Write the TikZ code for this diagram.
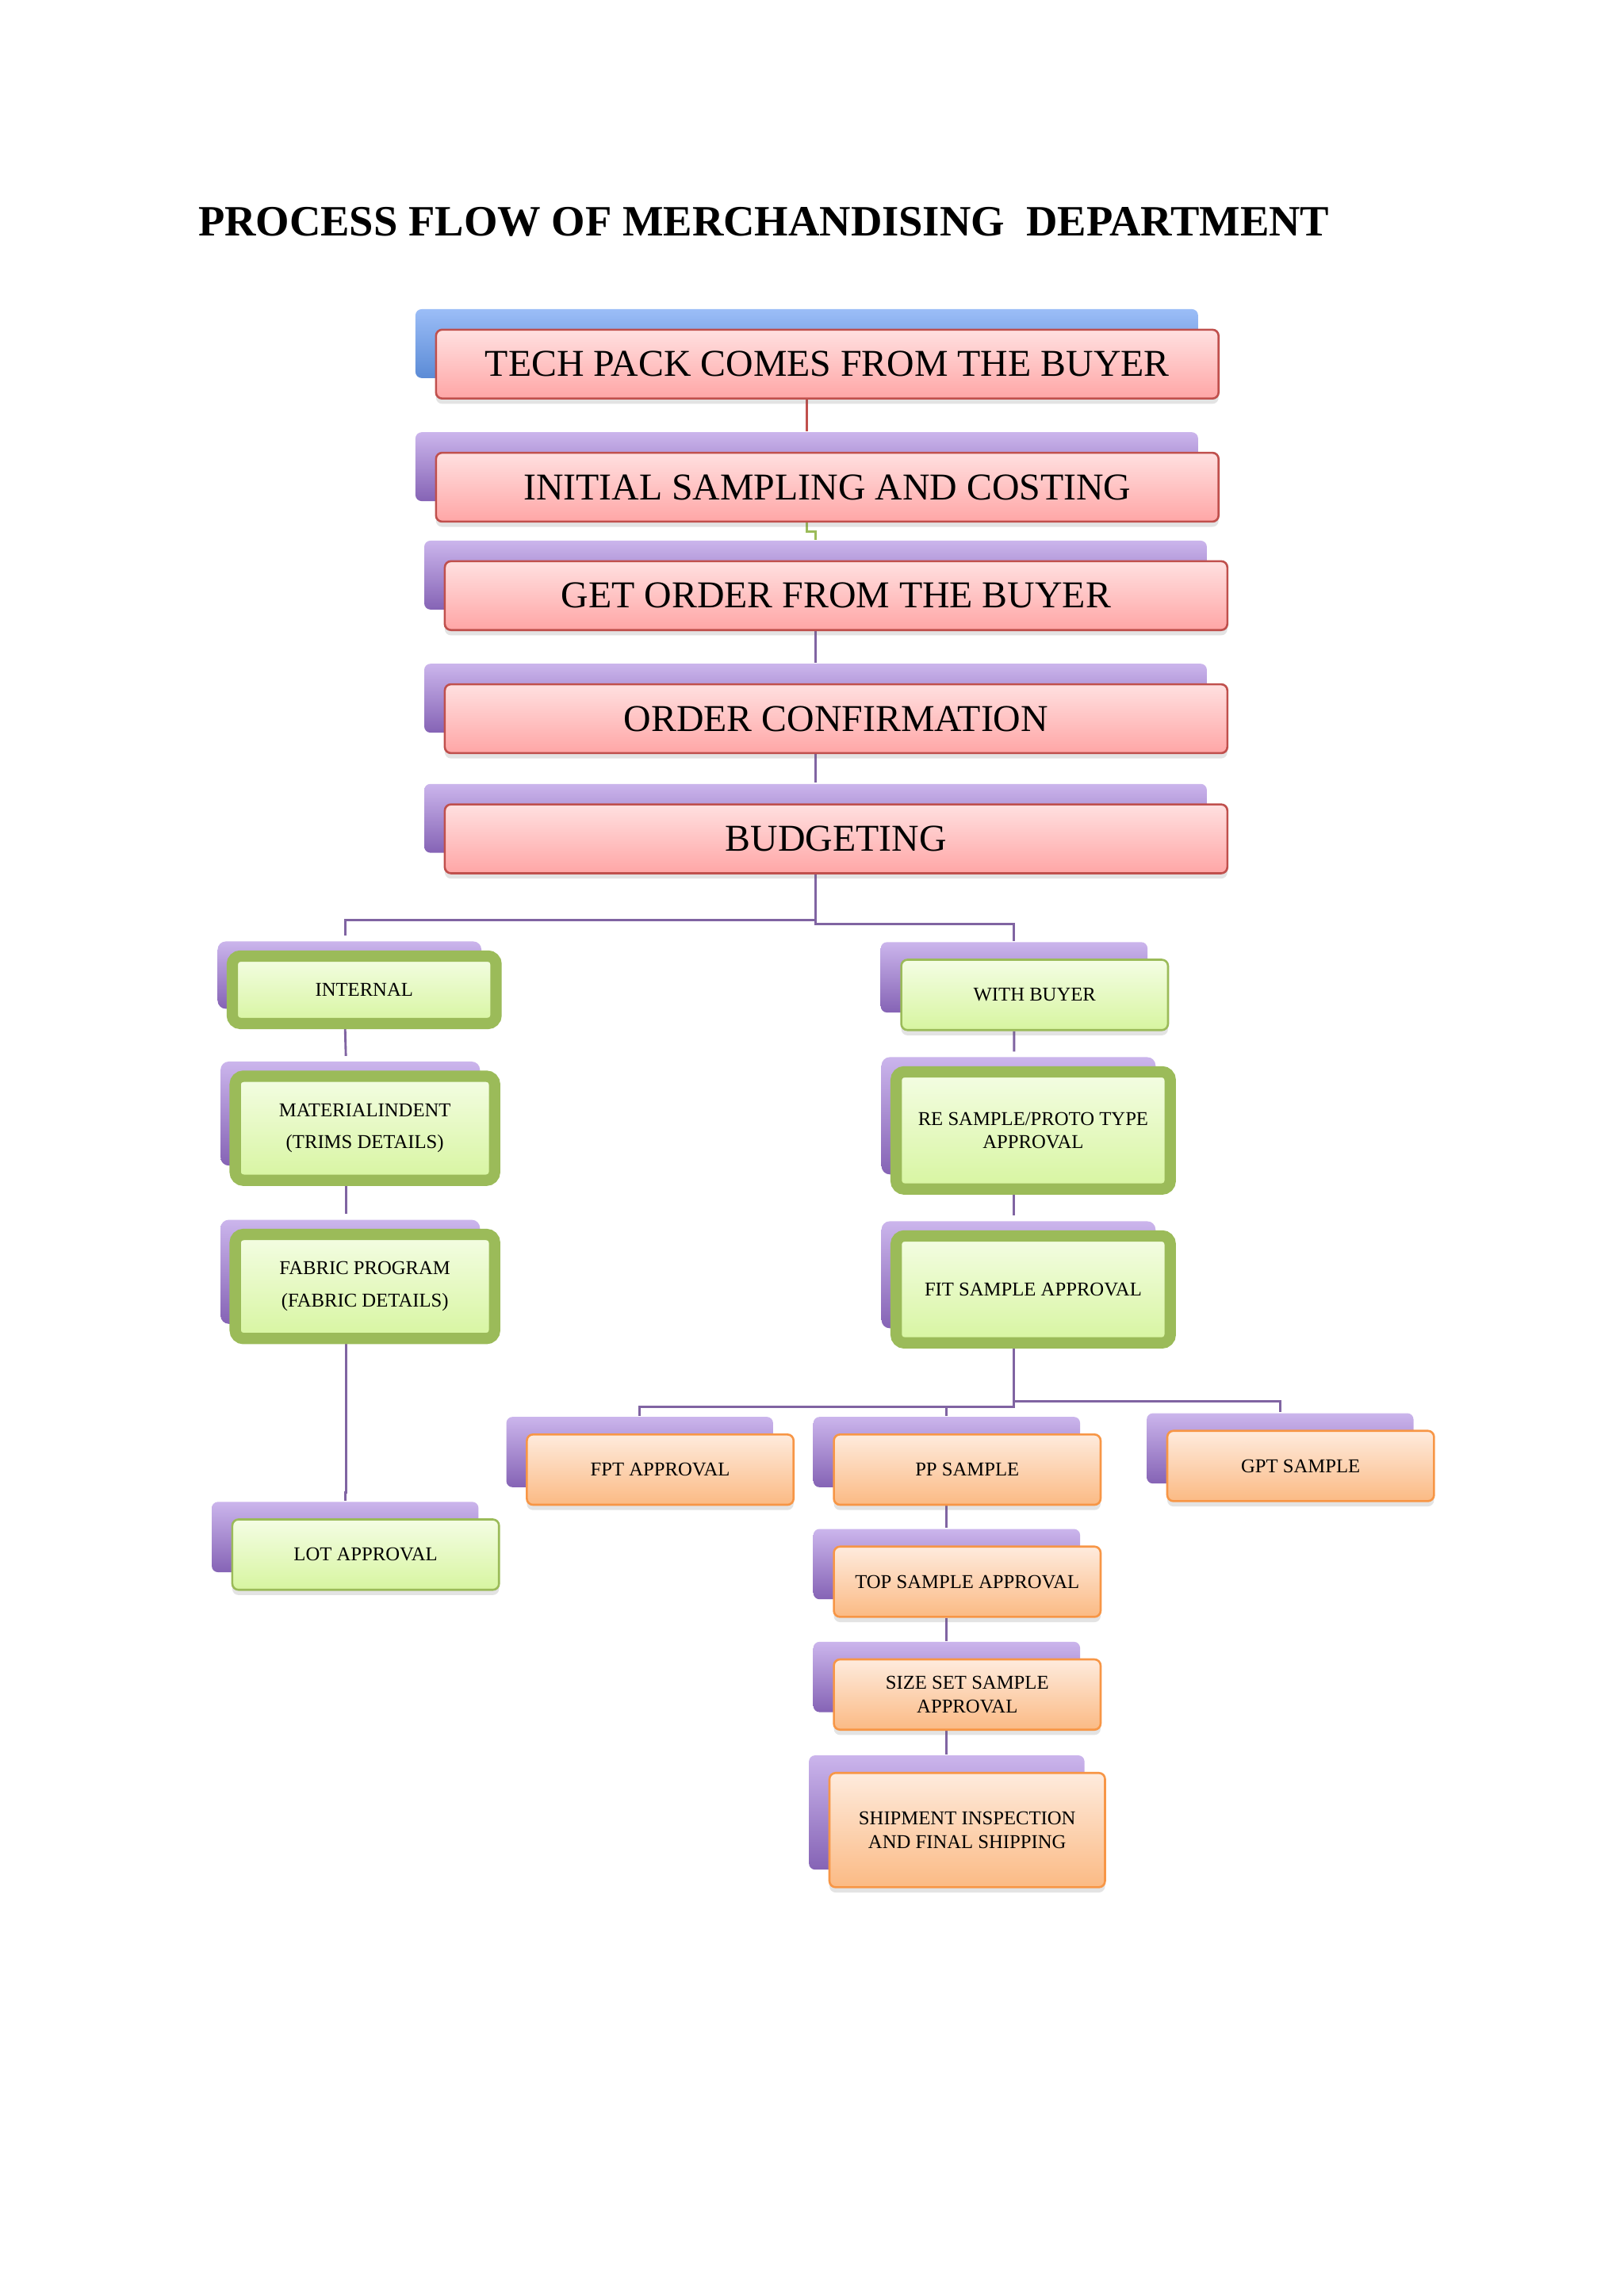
\documentclass[tikz,border=0pt]{standalone}
\usepackage{fontspec}
\setmainfont{Liberation Serif}
\usetikzlibrary{shadows}
\definecolor{pinkT}{HTML}{FFE0E0}
\definecolor{pinkB}{HTML}{FFA6A6}
\definecolor{redline}{HTML}{C0504D}
\definecolor{blueT}{HTML}{9BBDF7}
\definecolor{blueB}{HTML}{5B8BD6}
\definecolor{purT}{HTML}{CBB5EC}
\definecolor{purB}{HTML}{8563B5}
\definecolor{grnT}{HTML}{F4FDE4}
\definecolor{grnB}{HTML}{D7F5A0}
\definecolor{grnline}{HTML}{9BBB59}
\definecolor{orgT}{HTML}{FEEBDD}
\definecolor{orgB}{HTML}{FBBA84}
\definecolor{orgline}{HTML}{F79646}
\definecolor{lnk}{HTML}{8064A2}
\pgfdeclarelayer{bg}
\pgfsetlayers{bg,main}

\begin{document}
\begin{tikzpicture}[x=0.25mm,y=-0.25mm,
    soft/.style={drop shadow={shadow xshift=0pt,shadow yshift=-0.9mm,opacity=.18,fill=black!60}},
    pback/.style={general shadow={shadow xshift=-#1,shadow yshift=#1,top color=purT,bottom color=purB}},
    pback/.default=3.5mm,
    bback/.style={general shadow={shadow xshift=-3.5mm,shadow yshift=3.5mm,top color=blueT,bottom color=blueB}},
    topbox/.style={soft,draw=redline,line width=1pt,rounded corners=3pt,top color=pinkT,bottom color=pinkB,
      minimum width=133.5mm,minimum height=11.75mm,inner sep=0pt,font=\fontsize{18.4}{20}\selectfont},
    gthick/.style={soft,pback=2.5mm,draw=grnline,line width=5.5pt,rounded corners=4pt,top color=grnT,bottom color=grnB,
      inner sep=0pt,align=center,font=\fontsize{9.5}{11.4}\selectfont},
    gthin/.style={soft,general shadow={shadow xshift=-3.5mm,shadow yshift=3mm,top color=purT,bottom color=purB},
      draw=grnline,line width=1pt,rounded corners=3pt,top color=grnT,bottom color=grnB,
      minimum width=45.5mm,minimum height=12mm,inner sep=0pt,align=center,font=\fontsize{9.5}{11.4}\selectfont},
    obox/.style={soft,general shadow={shadow xshift=-3.5mm,shadow yshift=3mm,top color=purT,bottom color=purB},
      draw=orgline,line width=1pt,rounded corners=3pt,top color=orgT,bottom color=orgB,
      minimum width=45.5mm,minimum height=12mm,inner sep=0pt,align=center,font=\fontsize{9.5}{11.4}\selectfont},
    link/.style={draw=lnk,line width=1.1pt}]
\useasboundingbox (0,0) rectangle (1108,1567);

\node[anchor=base west,inner sep=0pt,font=\bfseries\fontsize{21}{24}\selectfont] (title) at (135,161)
  {PROCESS FLOW OF MERCHANDISING~~DEPARTMENT};

% main flow
\node[topbox,bback] (tech) at (564.5,248.5) {TECH PACK COMES FROM THE BUYER};
\node[topbox,pback] (init) at (564.5,332.5) {INITIAL SAMPLING AND COSTING};
\node[topbox,pback] (order) at (570.5,406.5) {GET ORDER FROM THE BUYER};
\node[topbox,pback] (conf) at (570.5,490.5) {ORDER CONFIRMATION};
\node[topbox,pback] (bud) at (570.5,572.5) {BUDGETING};

% internal branch
\node[gthick,minimum width=45mm,minimum height=11.5mm] (int) at (248.5,675.5) {INTERNAL};
\node[gthick,minimum width=44.25mm,minimum height=17.75mm] (mat) at (249,770)
  {MATERIALINDENT\\[4.2pt](TRIMS DETAILS)};
\node[gthick,minimum width=44.25mm,minimum height=17.75mm] (fab) at (249,878)
  {FABRIC PROGRAM\\[4.2pt](FABRIC DETAILS)};
\node[gthin] (lot) at (249.5,1061) {LOT APPROVAL};

% buyer branch
\node[gthin] (wb) at (706,679) {WITH BUYER};
\node[gthick,minimum width=46.75mm,minimum height=20mm] (rs) at (705,771.5)
  {RE SAMPLE/PROTO TYPE\\APPROVAL};
\node[gthick,minimum width=46.75mm,minimum height=18.25mm] (fit) at (705,880) {FIT SAMPLE APPROVAL};

\node[obox] (fpt) at (450.5,1003) {FPT APPROVAL};
\node[obox] (pp) at (660,1003) {PP SAMPLE};
\node[obox] (gpt) at (887.5,1000.5) {GPT SAMPLE};
\node[obox] (top) at (660,1079.5) {TOP SAMPLE APPROVAL};
\node[obox] (size) at (660,1156.5) {SIZE SET SAMPLE\\APPROVAL};
\node[obox,minimum width=47mm,minimum height=19.5mm] (ship) at (660,1249)
  {SHIPMENT INSPECTION\\AND FINAL SHIPPING};

\begin{pgfonlayer}{bg}
\fill[white] (0,0) rectangle (1108,1567);
\draw[link,draw=redline] ([xshift=-3.5mm]tech.south) -- ([xshift=-3.5mm,yshift=3.5mm]init.north);
\draw[link,draw=grnline] ([xshift=-3.5mm]init.south) -- ++(0,6) -| ([xshift=-3.5mm,yshift=3.5mm]order.north);
\draw[link] ([xshift=-3.5mm]order.south) -- ([xshift=-3.5mm,yshift=3.5mm]conf.north);
\draw[link] ([xshift=-3.5mm]conf.south) -- ([xshift=-3.5mm,yshift=3.5mm]bud.north);
\draw[link] ([xshift=-3.5mm]bud.south) -- ++(0,31) -| ([xshift=-3.25mm,yshift=2.5mm]int.north);
\draw[link] ([xshift=-3.5mm]bud.south) -- ++(0,34) -| ([xshift=-3.5mm,yshift=3mm]wb.north);
\draw[link] ([xshift=-3.25mm]int.south) -- ([xshift=-3.25mm,yshift=2.5mm]mat.north);
\draw[link] ([xshift=-3.25mm]mat.south) -- ([xshift=-3.25mm,yshift=2.5mm]fab.north);
\draw[link] ([xshift=-3.25mm]fab.south) -- ++(0,101) -| ([xshift=-3.5mm,yshift=3mm]lot.north);
\draw[link] ([xshift=-3.5mm]wb.south) -- ([xshift=-3.25mm,yshift=2.5mm]rs.north);
\draw[link] ([xshift=-3.25mm]rs.south) -- ([xshift=-3.25mm,yshift=2.5mm]fit.north);
\draw[link] ([xshift=-3.25mm]fit.south) -- ++(0,40) -| ([xshift=-3.5mm,yshift=3mm]fpt.north);
\draw[link] ([xshift=-3.25mm]fit.south) -- ++(0,40) -| ([xshift=-3.5mm,yshift=3mm]pp.north);
\draw[link] ([xshift=-3.25mm]fit.south) -- ++(0,36) -| ([xshift=-3.5mm,yshift=3mm]gpt.north);
\foreach \a/\b in {pp/top,top/size,size/ship}
  \draw[link] ([xshift=-3.5mm]\a.south) -- ([xshift=-3.5mm,yshift=3mm]\b.north);
\end{pgfonlayer}
\end{tikzpicture}
\end{document}
